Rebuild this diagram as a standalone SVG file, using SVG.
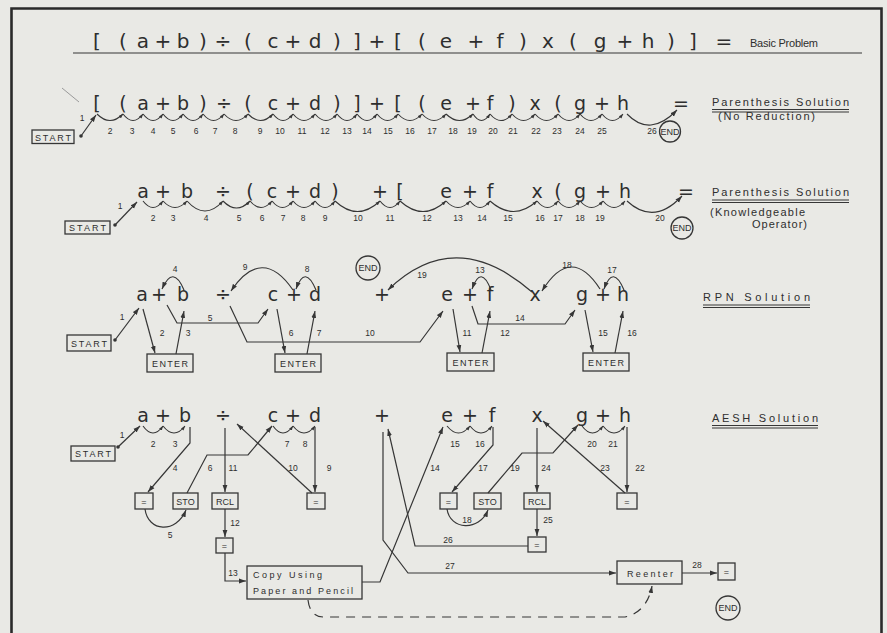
<svg xmlns="http://www.w3.org/2000/svg" width="887" height="633" viewBox="0 0 887 633">
<defs>
<style>
.t{font-family:"DejaVu Sans","Liberation Sans",sans-serif;fill:#2e2e2e}
.ch{font-size:19px;text-anchor:middle}
.hd{font-size:20px;text-anchor:middle}
.n{font-family:"Liberation Sans",sans-serif;font-size:8.5px;text-anchor:middle;fill:#2e2e2e}
.lb{font-family:"Liberation Sans",sans-serif;font-size:11px;fill:#2e2e2e}
.bt{font-family:"Liberation Sans",sans-serif;font-size:9px;text-anchor:middle;fill:#2e2e2e}
.ln{fill:none;stroke:#363636;stroke-width:1.2}
.sc{fill:none;stroke:#363636;stroke-width:1.1}
.bx{fill:none;stroke:#363636;stroke-width:1.3}
.ul{stroke:#363636;stroke-width:1.2}
</style>
<marker id="ah" markerUnits="userSpaceOnUse" markerWidth="8" markerHeight="6" refX="7" refY="3" orient="auto"><path d="M0,0.6 L7,3 L0,5.4 z" fill="#363636"/></marker>
<marker id="as" markerUnits="userSpaceOnUse" markerWidth="5" markerHeight="4" refX="4.5" refY="2" orient="auto"><path d="M0,0.3 L4.5,2 L0,3.7 z" fill="#363636"/></marker>
</defs>
<rect width="887" height="633" fill="#e9e9e5"/>
<path d="M11.5,640 L11.5,8.5 L881.5,8.5 L881.5,640" fill="none" stroke="#2a2a2a" stroke-width="2.6"/>

<!-- Header -->
<g id="header" class="t">
<text class="hd" x="97" y="48">[</text><text class="hd" x="123" y="48">(</text><text class="hd" x="143" y="48">a</text><text class="hd" x="163" y="48">+</text><text class="hd" x="183" y="48">b</text><text class="hd" x="203" y="48">)</text><text class="hd" x="223" y="48">÷</text><text class="hd" x="248" y="48">(</text><text class="hd" x="273" y="48">c</text><text class="hd" x="293" y="48">+</text><text class="hd" x="315" y="48">d</text><text class="hd" x="337" y="48">)</text><text class="hd" x="357" y="48">]</text><text class="hd" x="377" y="48">+</text><text class="hd" x="398" y="48">[</text><text class="hd" x="422" y="48">(</text><text class="hd" x="446" y="48">e</text><text class="hd" x="476" y="48">+</text><text class="hd" x="500" y="48">f</text><text class="hd" x="523" y="48">)</text><text class="hd" x="548" y="48">x</text><text class="hd" x="573" y="48">(</text><text class="hd" x="600" y="48">g</text><text class="hd" x="625" y="48">+</text><text class="hd" x="648" y="48">h</text><text class="hd" x="671" y="48">)</text><text class="hd" x="693" y="48">]</text><text class="hd" x="724" y="48">=</text>
<text class="lb" x="750" y="47" font-size="12.5" textLength="68">Basic Problem</text>
<line class="ul" x1="73" y1="53" x2="862" y2="53" stroke-width="1.6"/>
</g>

<!-- Row 2: Parenthesis Solution (No Reduction) -->
<g id="expr-paren" class="t">
<text class="ch" x="97" y="110">[</text><text class="ch" x="123" y="110">(</text><text class="ch" x="143" y="110">a</text><text class="ch" x="163" y="110">+</text><text class="ch" x="183" y="110">b</text><text class="ch" x="203" y="110">)</text><text class="ch" x="224" y="110">÷</text><text class="ch" x="248" y="110">(</text><text class="ch" x="273" y="110">c</text><text class="ch" x="293" y="110">+</text><text class="ch" x="315" y="110">d</text><text class="ch" x="337" y="110">)</text><text class="ch" x="357" y="110">]</text><text class="ch" x="377" y="110">+</text><text class="ch" x="398" y="110">[</text><text class="ch" x="422" y="110">(</text><text class="ch" x="446" y="110">e</text><text class="ch" x="473" y="110">+</text><text class="ch" x="490" y="110">f</text><text class="ch" x="512" y="110">)</text><text class="ch" x="535" y="110">x</text><text class="ch" x="558" y="110">(</text><text class="ch" x="580" y="110">g</text><text class="ch" x="602" y="110">+</text><text class="ch" x="623" y="110">h</text><text class="ch" x="681" y="110">=</text>
<text class="lb" x="712" y="106" textLength="137">Parenthesis Solution</text>
<line class="ul" x1="712" y1="109.5" x2="849" y2="109.5"/><line class="ul" x1="712" y1="112" x2="849" y2="112"/>
<text class="lb" x="718" y="120" textLength="97">(No Reduction)</text>
</g>
<g id="start-1">
<rect class="bx" x="32" y="130" width="42" height="13.5"/>
<text class="bt" x="53" y="140.5" textLength="36">START</text>
<circle cx="81" cy="136" r="1.8" fill="#363636"/>
</g>
<g id="end-1"><circle class="bx" cx="670" cy="131.5" r="10.5"/><text class="bt" x="670" y="134.5" font-size="7.5">END</text></g>

<!-- Row 3: Parenthesis Solution (Knowledgeable Operator) -->
<g id="expr-knowledgeable" class="t">
<text class="ch" x="143" y="198">a</text><text class="ch" x="163" y="198">+</text><text class="ch" x="187" y="198">b</text><text class="ch" x="223" y="198">÷</text><text class="ch" x="250" y="198">(</text><text class="ch" x="272" y="198">c</text><text class="ch" x="293" y="198">+</text><text class="ch" x="315" y="198">d</text><text class="ch" x="335" y="198">)</text><text class="ch" x="380" y="198">+</text><text class="ch" x="400" y="198">[</text><text class="ch" x="446" y="198">e</text><text class="ch" x="470" y="198">+</text><text class="ch" x="490" y="198">f</text><text class="ch" x="537" y="198">x</text><text class="ch" x="558" y="198">(</text><text class="ch" x="580" y="198">g</text><text class="ch" x="603" y="198">+</text><text class="ch" x="625" y="198">h</text><text class="ch" x="686" y="198">=</text>
<text class="lb" x="712" y="196" textLength="137">Parenthesis Solution</text>
<line class="ul" x1="712" y1="200" x2="849" y2="200"/><line class="ul" x1="712" y1="202.5" x2="849" y2="202.5"/>
<text class="lb" x="710" y="216" textLength="95">(Knowledgeable</text>
<text class="lb" x="752" y="228" textLength="55">Operator)</text>
</g>
<g id="start-2">
<rect class="bx" x="65" y="221" width="45" height="13"/>
<text class="bt" x="87.5" y="231" textLength="37">START</text>
<circle cx="115" cy="225" r="1.8" fill="#363636"/>
</g>
<g id="end-2"><circle class="bx" cx="682" cy="228" r="11"/><text class="bt" x="682" y="231" font-size="7.5">END</text></g>

<!-- Row 4: RPN Solution -->
<g id="expr-rpn" class="t">
<text class="ch" x="142" y="301">a</text><text class="ch" x="159" y="301">+</text><text class="ch" x="183" y="301">b</text><text class="ch" x="223" y="301">÷</text><text class="ch" x="273" y="301">c</text><text class="ch" x="294" y="301">+</text><text class="ch" x="315" y="301">d</text><text class="ch" x="382" y="301">+</text><text class="ch" x="447" y="301">e</text><text class="ch" x="470" y="301">+</text><text class="ch" x="490" y="301">f</text><text class="ch" x="535" y="301">x</text><text class="ch" x="582" y="301">g</text><text class="ch" x="603" y="301">+</text><text class="ch" x="623" y="301">h</text>
<text class="lb" x="703" y="301" textLength="107">RPN Solution</text>
<line class="ul" x1="703" y1="305" x2="810" y2="305"/><line class="ul" x1="703" y1="307.5" x2="810" y2="307.5"/>
</g>
<g id="start-3">
<rect class="bx" x="67" y="335" width="44" height="16"/>
<text class="bt" x="89" y="347" textLength="36">START</text>
<circle cx="115" cy="340" r="1.8" fill="#363636"/>
</g>
<g id="end-3"><circle class="bx" cx="368" cy="268" r="12"/><text class="bt" x="368" y="271" font-size="7.5">END</text></g>
<g id="enter-1"><rect class="bx" x="147" y="354" width="46" height="18"/><text class="bt" x="170" y="366.5" textLength="36">ENTER</text></g>
<g id="enter-2"><rect class="bx" x="275" y="354" width="46" height="18"/><text class="bt" x="298" y="366.5" textLength="36">ENTER</text></g>
<g id="enter-3"><rect class="bx" x="447" y="353" width="47" height="18"/><text class="bt" x="470.5" y="365.5" textLength="36">ENTER</text></g>
<g id="enter-4"><rect class="bx" x="583" y="353" width="46" height="18"/><text class="bt" x="606" y="365.5" textLength="36">ENTER</text></g>

<!-- Row 5: AESH Solution -->
<g id="expr-aesh" class="t">
<text class="ch" x="143" y="422">a</text><text class="ch" x="163" y="422">+</text><text class="ch" x="185" y="422">b</text><text class="ch" x="223" y="422">÷</text><text class="ch" x="273" y="422">c</text><text class="ch" x="293" y="422">+</text><text class="ch" x="315" y="422">d</text><text class="ch" x="382" y="422">+</text><text class="ch" x="447" y="422">e</text><text class="ch" x="470" y="422">+</text><text class="ch" x="492" y="422">f</text><text class="ch" x="537" y="422">x</text><text class="ch" x="582" y="422">g</text><text class="ch" x="603" y="422">+</text><text class="ch" x="625" y="422">h</text>
<text class="lb" x="712" y="422" textLength="106">AESH Solution</text>
<line class="ul" x1="712" y1="425.5" x2="818" y2="425.5"/><line class="ul" x1="712" y1="428" x2="818" y2="428"/>
</g>
<g id="start-4">
<rect class="bx" x="71" y="446" width="44" height="15"/>
<text class="bt" x="93" y="457" textLength="36">START</text>
<circle cx="118" cy="447" r="1.8" fill="#363636"/>
</g>
<g id="eq-1"><rect class="bx" x="135" y="493" width="18" height="16"/><text class="bt" x="144" y="504.5">=</text></g>
<g id="sto-1"><rect class="bx" x="173" y="493" width="25" height="16"/><text class="bt" x="185.5" y="504.5" font-size="8.5">STO</text></g>
<g id="rcl-1"><rect class="bx" x="212" y="493" width="26" height="16"/><text class="bt" x="225" y="504.5" font-size="8.5">RCL</text></g>
<g id="eq-2"><rect class="bx" x="307" y="493" width="18" height="16"/><text class="bt" x="316" y="504.5">=</text></g>
<g id="eq-3"><rect class="bx" x="440" y="493" width="17" height="16"/><text class="bt" x="448.5" y="504.5">=</text></g>
<g id="sto-2"><rect class="bx" x="474" y="493" width="27" height="16"/><text class="bt" x="487.5" y="504.5" font-size="8.5">STO</text></g>
<g id="rcl-2"><rect class="bx" x="524" y="493" width="26" height="16"/><text class="bt" x="537" y="504.5" font-size="8.5">RCL</text></g>
<g id="eq-5"><rect class="bx" x="617" y="493" width="20" height="16"/><text class="bt" x="627" y="504.5">=</text></g>
<g id="eq-rcl1"><rect class="bx" x="216" y="538" width="17" height="15"/><text class="bt" x="224.5" y="549">=</text></g>
<g id="eq-4"><rect class="bx" x="528" y="537" width="18" height="15"/><text class="bt" x="537" y="548">=</text></g>
<g id="copy"><rect class="bx" x="247" y="566" width="115" height="33"/>
<text class="bt" x="253" y="578" style="text-anchor:start" textLength="69">Copy Using</text>
<text class="bt" x="253" y="594" style="text-anchor:start" textLength="100">Paper and Pencil</text></g>
<g id="reenter"><rect class="bx" x="617" y="561" width="65" height="23"/><text class="bt" x="650" y="576.5" textLength="46">Reenter</text></g>
<g id="eq-6"><rect class="bx" x="718" y="563" width="17" height="17"/><text class="bt" x="726.5" y="575">=</text></g>
<g id="end-4"><circle class="bx" cx="728" cy="608" r="12"/><text class="bt" x="728" y="611" font-size="7.5">END</text></g>

<g id="connectors">
<line x1="62" y1="88" x2="79" y2="102" stroke="#9a9a9a" stroke-width="1"/>
<!-- row 2 -->
<path class="ln" d="M81,136 L96,115" marker-end="url(#ah)"/>
<path class="sc" marker-end="url(#as)" d="M97,114 Q110,127 123,114"/>
<path class="sc" marker-end="url(#as)" d="M123,114 Q133,127 143,114"/>
<path class="sc" marker-end="url(#as)" d="M143,114 Q153,127 163,114"/>
<path class="sc" marker-end="url(#as)" d="M163,114 Q173,127 183,114"/>
<path class="sc" marker-end="url(#as)" d="M183,114 Q193,127 203,114"/>
<path class="sc" marker-end="url(#as)" d="M203,114 Q213.5,127 224,114"/>
<path class="sc" marker-end="url(#as)" d="M224,114 Q236,127 248,114"/>
<path class="sc" marker-end="url(#as)" d="M248,114 Q260.5,127 273,114"/>
<path class="sc" marker-end="url(#as)" d="M273,114 Q283,127 293,114"/>
<path class="sc" marker-end="url(#as)" d="M293,114 Q304,127 315,114"/>
<path class="sc" marker-end="url(#as)" d="M315,114 Q326,127 337,114"/>
<path class="sc" marker-end="url(#as)" d="M337,114 Q347,127 357,114"/>
<path class="sc" marker-end="url(#as)" d="M357,114 Q367,127 377,114"/>
<path class="sc" marker-end="url(#as)" d="M377,114 Q387.5,127 398,114"/>
<path class="sc" marker-end="url(#as)" d="M398,114 Q410,127 422,114"/>
<path class="sc" marker-end="url(#as)" d="M422,114 Q434,127 446,114"/>
<path class="sc" marker-end="url(#as)" d="M446,114 Q459.5,127 473,114"/>
<path class="sc" marker-end="url(#as)" d="M473,114 Q481.5,127 490,114"/>
<path class="sc" marker-end="url(#as)" d="M490,114 Q501,127 512,114"/>
<path class="sc" marker-end="url(#as)" d="M512,114 Q523.5,127 535,114"/>
<path class="sc" marker-end="url(#as)" d="M535,114 Q546.5,127 558,114"/>
<path class="sc" marker-end="url(#as)" d="M558,114 Q569,127 580,114"/>
<path class="sc" marker-end="url(#as)" d="M580,114 Q591,127 602,114"/>
<path class="sc" marker-end="url(#as)" d="M602,114 Q612.5,127 623,114"/>
<path class="sc" marker-end="url(#ah)" d="M627,114 Q650,138 677,110"/>
<g class="n">
<text x="82" y="121">1</text><text x="110" y="134">2</text><text x="132" y="134">3</text><text x="153" y="134">4</text><text x="173" y="134">5</text><text x="196" y="134">6</text><text x="215" y="134">7</text><text x="235" y="134">8</text><text x="260" y="134">9</text><text x="280" y="134">10</text><text x="302" y="134">11</text><text x="325" y="134">12</text><text x="347" y="134">13</text><text x="367" y="134">14</text><text x="388" y="134">15</text><text x="410" y="134">16</text><text x="432" y="134">17</text><text x="453" y="134">18</text><text x="472" y="134">19</text><text x="493" y="134">20</text><text x="513" y="134">21</text><text x="536" y="134">22</text><text x="557" y="134">23</text><text x="580" y="134">24</text><text x="602" y="134">25</text><text x="652" y="134">26</text>
</g>
<!-- row 3 -->
<path class="ln" d="M115,225 L137,202" marker-end="url(#ah)"/>
<path class="sc" marker-end="url(#as)" d="M143,201 Q153,214 163,201"/>
<path class="sc" marker-end="url(#as)" d="M163,201 Q175,214 187,201"/>
<path class="sc" marker-end="url(#as)" d="M187,201 Q205,221 223,201"/>
<path class="sc" marker-end="url(#as)" d="M223,201 Q236.5,215 250,201"/>
<path class="sc" marker-end="url(#as)" d="M250,201 Q261,214 272,201"/>
<path class="sc" marker-end="url(#as)" d="M272,201 Q282.5,214 293,201"/>
<path class="sc" marker-end="url(#as)" d="M293,201 Q304,214 315,201"/>
<path class="sc" marker-end="url(#as)" d="M315,201 Q325,214 335,201"/>
<path class="sc" marker-end="url(#as)" d="M335,201 Q357.5,222 380,201"/>
<path class="sc" marker-end="url(#as)" d="M380,201 Q390,214 400,201"/>
<path class="sc" marker-end="url(#as)" d="M400,201 Q423,222 446,201"/>
<path class="sc" marker-end="url(#as)" d="M446,201 Q458,214 470,201"/>
<path class="sc" marker-end="url(#as)" d="M470,201 Q480,214 490,201"/>
<path class="sc" marker-end="url(#as)" d="M490,201 Q513.5,222 537,201"/>
<path class="sc" marker-end="url(#as)" d="M537,201 Q547.5,214 558,201"/>
<path class="sc" marker-end="url(#as)" d="M558,201 Q569,214 580,201"/>
<path class="sc" marker-end="url(#as)" d="M580,201 Q591.5,214 603,201"/>
<path class="sc" marker-end="url(#as)" d="M603,201 Q614,214 625,201"/>
<path class="sc" marker-end="url(#ah)" d="M627,201 Q654,226 682,196"/>
<g class="n">
<text x="120" y="209">1</text><text x="153" y="221">2</text><text x="173" y="221">3</text><text x="206" y="221">4</text><text x="239" y="221">5</text><text x="262" y="221">6</text><text x="283" y="221">7</text><text x="303" y="221">8</text><text x="325" y="221">9</text><text x="358" y="221">10</text><text x="390" y="221">11</text><text x="427" y="221">12</text><text x="458" y="221">13</text><text x="482" y="221">14</text><text x="508" y="221">15</text><text x="540" y="221">16</text><text x="558" y="221">17</text><text x="580" y="221">18</text><text x="600" y="221">19</text><text x="660" y="221">20</text>
</g>
<!-- row 4 RPN -->
<path class="ln" d="M115,340 L139,308" marker-end="url(#ah)"/>
<path class="ln" d="M143,309 L155,353" marker-end="url(#ah)"/>
<path class="ln" d="M176,354 L184,311" marker-end="url(#ah)"/>
<path class="ln" d="M184,290 Q173,264 162,289" marker-end="url(#ah)"/>
<path class="ln" d="M167,305 L177,323 L258,323 L268,309" marker-end="url(#ah)"/>
<path class="ln" d="M277,309 L285,353" marker-end="url(#ah)"/>
<path class="ln" d="M307,354 L315,311" marker-end="url(#ah)"/>
<path class="ln" d="M316,290 Q305,264 296,289" marker-end="url(#ah)"/>
<path class="ln" d="M293,290 Q262,245 231,291" marker-end="url(#ah)"/>
<path class="ln" d="M230,306 L247,342 L420,342 L443,311" marker-end="url(#ah)"/>
<path class="ln" d="M453,309 L460,352" marker-end="url(#ah)"/>
<path class="ln" d="M482,353 L490,311" marker-end="url(#ah)"/>
<path class="ln" d="M491,290 Q481,264 472,289" marker-end="url(#ah)"/>
<path class="ln" d="M472,306 L478,324 L565,324 L575,310" marker-end="url(#ah)"/>
<path class="ln" d="M585,310 L593,352" marker-end="url(#ah)"/>
<path class="ln" d="M615,353 L623,311" marker-end="url(#ah)"/>
<path class="ln" d="M624,290 Q613,264 604,289" marker-end="url(#ah)"/>
<path class="ln" d="M600,289 Q571,244 542,291" marker-end="url(#ah)"/>
<path class="ln" d="M532,292 Q455,225 388,290" marker-end="url(#ah)"/>
<g class="n">
<text x="122" y="320">1</text><text x="162" y="336">2</text><text x="188" y="336">3</text><text x="175" y="272">4</text><text x="210" y="321">5</text><text x="291" y="336">6</text><text x="319" y="336">7</text><text x="307" y="272">8</text><text x="245" y="270">9</text><text x="370" y="336">10</text><text x="467" y="336">11</text><text x="505" y="336">12</text><text x="480" y="273">13</text><text x="520" y="321">14</text><text x="603" y="336">15</text><text x="632" y="336">16</text><text x="612" y="273">17</text><text x="567" y="268">18</text><text x="422" y="278">19</text>
</g>
<!-- row 5 AESH -->
<path class="ln" d="M118,447 L140,426" marker-end="url(#ah)"/>
<path class="sc" marker-end="url(#as)" d="M143,426 Q153,440 163,426"/>
<path class="sc" marker-end="url(#as)" d="M163,426 Q174,440 185,426"/>
<path class="sc" marker-end="url(#as)" d="M273,426 Q283,440 293,426"/>
<path class="sc" marker-end="url(#as)" d="M293,426 Q304,440 315,426"/>
<path class="sc" marker-end="url(#as)" d="M447,426 Q458.5,440 470,426"/>
<path class="sc" marker-end="url(#as)" d="M470,426 Q481,440 492,426"/>
<path class="sc" marker-end="url(#as)" d="M582,426 Q592.5,440 603,426"/>
<path class="sc" marker-end="url(#as)" d="M603,426 Q614,440 625,426"/>
<path class="ln" d="M190,427 L190,443 L148,492" marker-end="url(#ah)"/>
<path class="ln" d="M145,509 C148,532 176,534 186,510" marker-end="url(#ah)"/>
<path class="ln" d="M187,493 L207,455 L248,455 L272,426" marker-end="url(#ah)"/>
<path class="ln" d="M225,428 L225,492" marker-end="url(#ah)"/>
<path class="ln" d="M312,493 L237,424" marker-end="url(#ah)"/>
<path class="ln" d="M315,427 L315,492" marker-end="url(#ah)"/>
<path class="ln" d="M225,509 L225,537" marker-end="url(#ah)"/>
<path class="ln" d="M225,553 L225,581 L246,581" marker-end="url(#ah)"/>
<path class="ln" d="M362,582 L380,582 L443,427" marker-end="url(#ah)"/>
<path class="ln" d="M493,427 L493,445 L452,492" marker-end="url(#ah)"/>
<path class="ln" d="M447,509 C450,530 479,532 488,510" marker-end="url(#ah)"/>
<path class="ln" d="M488,493 L522,453 L553,453 L578,425" marker-end="url(#ah)"/>
<path class="ln" d="M537,428 L537,492" marker-end="url(#ah)"/>
<path class="ln" d="M537,509 L537,536" marker-end="url(#ah)"/>
<path class="ln" d="M627,427 L627,492" marker-end="url(#ah)"/>
<path class="ln" d="M625,493 L543,421" marker-end="url(#ah)"/>
<path class="ln" d="M528,546 L415,546 L388,429" marker-end="url(#ah)"/>
<path class="ln" d="M383,432 L383,540 L408,573 L616,573" marker-end="url(#ah)"/>
<path class="ln" d="M682,573 L717,573" marker-end="url(#ah)"/>
<path class="ln" d="M308,600 Q310,617 324,617 L625,617 Q647,612 652,586" stroke-dasharray="9 7" marker-end="url(#ah)"/>
<g class="n">
<text x="122" y="438">1</text><text x="153" y="447">2</text><text x="175" y="447">3</text><text x="287" y="447">7</text><text x="305" y="447">8</text><text x="455" y="447">15</text><text x="480" y="447">16</text><text x="592" y="447">20</text><text x="613" y="447">21</text>
<text x="175" y="471">4</text><text x="210" y="471">6</text><text x="233" y="471">11</text><text x="293" y="471">10</text><text x="329" y="471">9</text><text x="170" y="538">5</text><text x="235" y="526">12</text><text x="233" y="576">13</text>
<text x="435" y="471">14</text><text x="483" y="471">17</text><text x="515" y="471">19</text><text x="546" y="471">24</text><text x="605" y="471">23</text><text x="640" y="471">22</text><text x="467" y="523">18</text><text x="548" y="523">25</text><text x="448" y="543">26</text><text x="450" y="569">27</text><text x="697" y="568">28</text>
</g>
</g>
</svg>
